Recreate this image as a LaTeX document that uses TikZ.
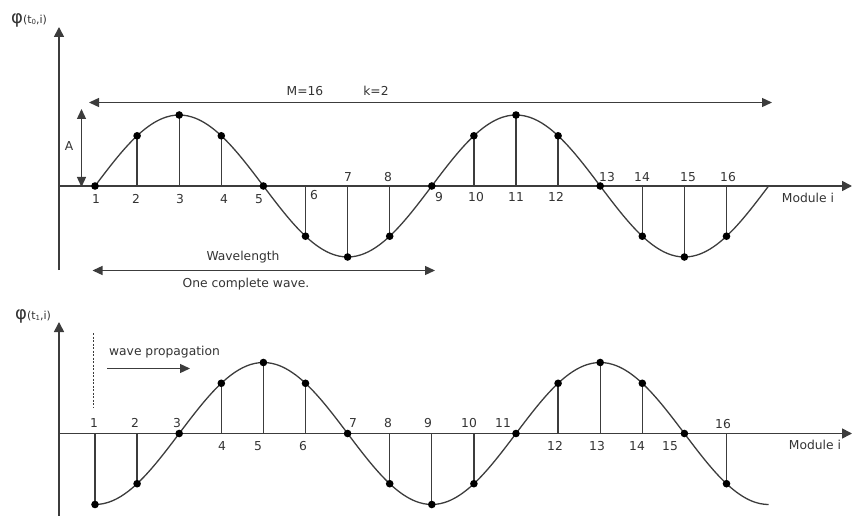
\documentclass[tikz,border=0pt]{standalone}
\usepackage{fontspec}
\setmainfont{DejaVu Sans}
\usetikzlibrary{arrows.meta}
\definecolor{ink}{HTML}{3C3C3C}
\definecolor{txt}{HTML}{333333}
\tikzset{
  axisline/.style={draw=ink, line width=1.6pt, -{Triangle[length=10pt,width=10pt]}},
  dblarrow/.style={draw=ink, line width=1.3pt, {Triangle[length=10pt,width=9pt]}-{Triangle[length=10pt,width=9pt]}},
  wave/.style={draw=ink, line width=1.3pt},
  stem/.style={draw=ink, line width=1.3pt},
  dot/.style={fill=black},
  lab/.style={text=txt, font=\fontsize{12.3}{12.3}\selectfont, inner sep=0pt, anchor=center},
}
\begin{document}
\begin{tikzpicture}[x=1pt,y=-1pt]
\useasboundingbox (0,0) rectangle (852,516);

% ---------- top plot ----------
\coordinate (ty0) at (59,270);
\coordinate (ty1) at (59,27);
\coordinate (tx0) at (59,186);
\coordinate (tx1) at (852,186);
\draw[axisline] (ty0) -- (ty1);
\draw[axisline] (tx0) -- (tx1);
\node[text=txt, anchor=west, inner sep=0pt] (tphi) at (11,20)
  {{\fontsize{18}{18}\selectfont φ}{\fontsize{11}{11}\selectfont(t\raisebox{-1.5pt}{\fontsize{7}{7}\selectfont 0},i)}};

\draw[wave] plot[domain=1:17, samples=161, smooth] ({95+42.1*(\x-1)},{186-71*sin(45*(\x-1))});
\foreach \i in {1,...,16}{
  \coordinate (t\i) at ({95+42.1*(\i-1)},{186-71*sin(45*(\i-1))});
  \coordinate (ta\i) at ({95+42.1*(\i-1)},186);
  \draw[stem] (ta\i) -- (t\i);
  \fill[dot] (t\i) circle (3.8);
}
\foreach \i/\px/\py in {1/96/199, 2/136/199, 3/180/199, 4/224/199, 5/259/199,
  6/314/195, 7/348/177, 8/388/177, 9/439/197, 10/476/197, 11/516/197, 12/556/197,
  13/607/177, 14/642/177, 15/688/177, 16/728/177}{
  \node[lab] (tl\i) at (\px,\py) {\i};
}
\node[lab] (tmod) at (808,198) {Module i};

% amplitude arrow
\coordinate (Atop) at (81.5,109);
\coordinate (Abot) at (81.5,187);
\draw[dblarrow] (Atop) -- (Abot);
\node[lab] (Alab) at (69,146) {A};

% M=16 k=2 arrow
\coordinate (Ml) at (89,102.5);
\coordinate (Mr) at (772,102.5);
\draw[dblarrow] (Ml) -- (Mr);
\node[lab] (Mlab) at (305,91) {M=16};
\node[lab] (klab) at (376,91) {k=2};

% wavelength arrow
\coordinate (Wl) at (92.5,270.5);
\coordinate (Wr) at (435,270.5);
\draw[dblarrow] (Wl) -- (Wr);
\node[lab] (Wlab) at (243,257) {Wavelength};
\node[lab] (Olab) at (246,284) {One complete wave.};

% ---------- bottom plot ----------
\coordinate (by0) at (59,516);
\coordinate (by1) at (59,322);
\coordinate (bx0) at (59,433.5);
\coordinate (bx1) at (852,433.5);
\draw[axisline] (by0) -- (by1);
\draw[axisline] (bx0) -- (bx1);
\node[text=txt, anchor=west, inner sep=0pt] (bphi) at (15,316)
  {{\fontsize{18}{18}\selectfont φ}{\fontsize{11}{11}\selectfont(t\raisebox{-1.5pt}{\fontsize{7}{7}\selectfont 1},i)}};

\draw[wave] plot[domain=1:17, samples=161, smooth] ({95+42.1*(\x-1)},{433.5+71*cos(45*(\x-1))});
\foreach \i in {1,...,16}{
  \coordinate (b\i) at ({95+42.1*(\i-1)},{433.5+71*cos(45*(\i-1))});
  \coordinate (ba\i) at ({95+42.1*(\i-1)},433.5);
  \draw[stem] (ba\i) -- (b\i);
  \fill[dot] (b\i) circle (3.8);
}
\foreach \i/\px/\py in {1/94/423, 2/135/423, 3/177/423, 4/222/446, 5/258/446,
  6/303/446, 7/353/423, 8/388/423, 9/428/423, 10/469/423, 11/503/423, 12/555/446,
  13/597/446, 14/637/446, 15/670/446, 16/723/424}{
  \node[lab] (bl\i) at (\px,\py) {\i};
}
\node[lab] (bmod) at (815,445) {Module i};

% wave propagation
\coordinate (dtop) at (93.5,333);
\coordinate (dbot) at (93.5,408);
\draw[ink, line width=1.2pt, dash pattern=on 2pt off 1.5pt] (dtop) -- (dbot);
\node[lab] (wplab) at (164.5,352) {wave propagation};
\coordinate (pl) at (107,368.5);
\coordinate (pr) at (190,368.5);
\draw[ink, line width=1.3pt, -{Triangle[length=10pt,width=9pt]}] (pl) -- (pr);
\end{tikzpicture}
\end{document}
